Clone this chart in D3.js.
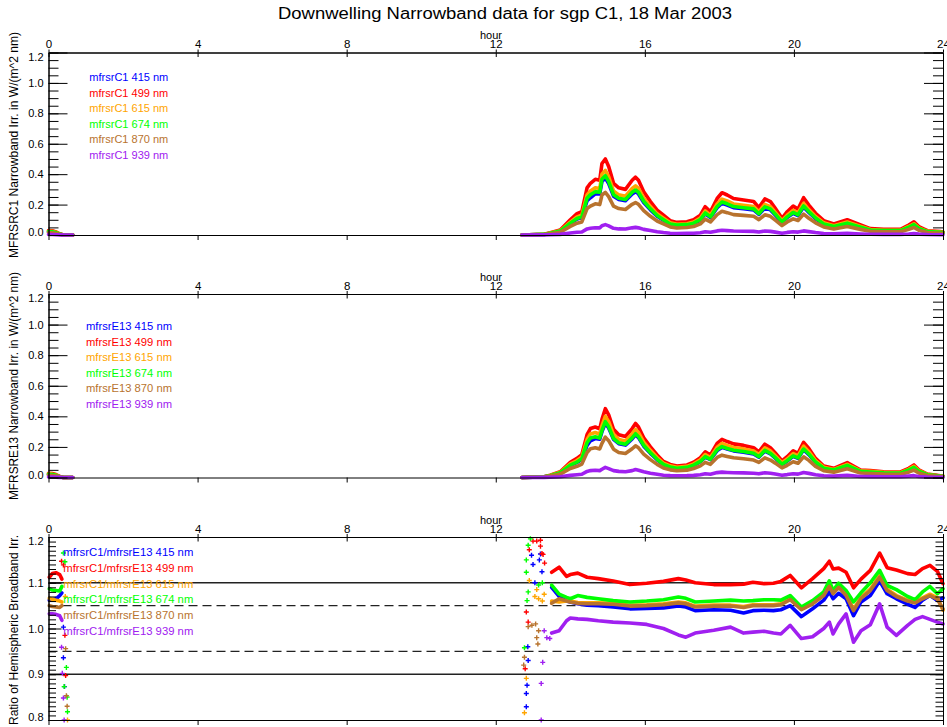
<!DOCTYPE html>
<html><head><meta charset="utf-8">
<script src="https://cdn.jsdelivr.net/npm/d3@7"></script>
<style>body{margin:0;background:#fff;} svg{display:block;background:#fff;}</style>
</head><body><svg id="c" width="947" height="727"></svg>
<script>
// ---------------- DATA ----------------
const titleText = "Downwelling Narrowband data for sgp C1, 18 Mar 2003";
const hourTicks = [0,4,8,12,16,20,24];
const hourTickLabels = ["0","4","8","12","16","20","24"];
const irrTicks = [0,0.2,0.4,0.6,0.8,1.0,1.2];
const irrTickLabels = ["0.0","0.2","0.4","0.6","0.8","1.0","1.2"];
const ratioTicks = [0.8,0.9,1.0,1.1,1.2];
const ratioTickLabels = ["0.8","0.9","1.0","1.1","1.2"];
const ratioRefSolid = [1.1,0.9];
const ratioRefDashed = [1.05,0.95];
const channels = ["415","499","615","674","870","939"];
const channelColors = ["#0000ff","#ff0000","#ffa500","#00ff00","#b8732e","#a020f0"];

const irrHours = [12.7,13.3,13.46,13.73,14.0,14.18,14.31,14.45,14.54,14.67,14.79,14.85,14.94,15.03,15.16,15.3,15.48,15.66,15.75,15.83,15.97,16.15,16.33,16.5,16.68,16.86,17.13,17.31,17.49,17.62,17.76,17.94,18.07,18.21,18.38,18.65,18.92,19.06,19.22,19.37,19.5,19.68,19.82,19.98,20.11,20.26,20.4,20.58,20.8,21.07,21.43,21.79,22.05,22.41,22.86,23.08,23.22,23.35,23.58,23.93,24.0];

const c1_415 = [0,0.004,0.011,0.025,0.075,0.105,0.115,0.225,0.245,0.27, 0.27,0.352,0.375,0.338,0.255,0.233,0.225,0.27,0.285,0.27, 0.214,0.165,0.123,0.098,0.071,0.062,0.065,0.075,0.098,0.14, 0.115,0.18,0.209,0.197,0.18,0.173,0.165,0.135,0.178,0.165, 0.131,0.083,0.115,0.143,0.128,0.184,0.148,0.107,0.071,0.054, 0.075,0.05,0.032,0.028,0.028,0.05,0.065,0.041,0.021,0.017,0.015];
const c1_499 = [0,0.005,0.015,0.033,0.10,0.14,0.153,0.31,0.34,0.366, 0.36,0.47,0.50,0.45,0.34,0.31,0.30,0.36,0.38,0.36, 0.285,0.22,0.164,0.13,0.094,0.083,0.087,0.10,0.13,0.186, 0.153,0.24,0.278,0.263,0.24,0.23,0.22,0.18,0.237,0.22, 0.175,0.11,0.153,0.19,0.17,0.245,0.197,0.143,0.094,0.072, 0.10,0.066,0.042,0.037,0.037,0.066,0.087,0.055,0.028,0.022,0.02];
const c1_615 = [0,0.004,0.013,0.028,0.085,0.119,0.130,0.264,0.289,0.311, 0.306,0.40,0.425,0.383,0.289,0.264,0.255,0.306,0.323,0.306, 0.242,0.187,0.139,0.111,0.08,0.071,0.074,0.085,0.111,0.158, 0.13,0.204,0.236,0.224,0.204,0.196,0.187,0.153,0.201,0.187, 0.149,0.094,0.13,0.162,0.145,0.208,0.167,0.122,0.08,0.061, 0.085,0.056,0.036,0.031,0.031,0.056,0.074,0.047,0.024,0.019,0.017];
const c1_674 = [0,0.004,0.012,0.026,0.078,0.109,0.119,0.242,0.265,0.285, 0.281,0.367,0.39,0.351,0.265,0.242,0.234,0.281,0.296,0.281, 0.222,0.172,0.128,0.101,0.073,0.065,0.068,0.078,0.101,0.145, 0.119,0.187,0.217,0.205,0.187,0.179,0.172,0.14,0.185,0.172, 0.137,0.086,0.119,0.148,0.133,0.191,0.154,0.112,0.073,0.056, 0.078,0.051,0.033,0.029,0.029,0.051,0.068,0.043,0.022,0.017,0.016];
const c1_870 = [0,0.003,0.008,0.018,0.056,0.078,0.086,0.174,0.19,0.205, 0.2,0.263,0.28,0.252,0.19,0.174,0.168,0.202,0.213,0.202, 0.16,0.123,0.092,0.073,0.053,0.046,0.049,0.056,0.073,0.104, 0.086,0.134,0.156,0.147,0.134,0.129,0.123,0.101,0.133,0.123, 0.098,0.062,0.086,0.106,0.095,0.137,0.11,0.08,0.053,0.04, 0.056,0.037,0.024,0.021,0.021,0.037,0.049,0.031,0.016,0.012,0.011];
const c1_939 = [0,0.001,0.002,0.004,0.013,0.018,0.02,0.04,0.044,0.048, 0.047,0.061,0.068,0.06,0.044,0.04,0.039,0.047,0.05,0.047, 0.037,0.029,0.021,0.016,0.012,0.01,0.011,0.012,0.015,0.021, 0.018,0.027,0.031,0.029,0.026,0.025,0.024,0.02,0.026,0.024, 0.019,0.012,0.017,0.021,0.019,0.027,0.022,0.016,0.01,0.008, 0.011,0.007,0.005,0.004,0.004,0.007,0.01,0.006,0.003,0.002,0.002];

const e13_415 = [0,0.004,0.012,0.03,0.079,0.099,0.118,0.21,0.24,0.255, 0.25,0.3,0.355,0.324,0.249,0.221,0.212,0.253,0.279,0.261, 0.205,0.158,0.116,0.083,0.067,0.059,0.065,0.079,0.103,0.133, 0.116,0.176,0.197,0.186,0.174,0.166,0.154,0.133,0.172,0.154, 0.126,0.085,0.107,0.138,0.125,0.182,0.15,0.099,0.059,0.047, 0.077,0.039,0.036,0.03,0.028,0.047,0.065,0.04,0.017,0.009,0.008];
const e13_499 = [0,0.005,0.015,0.038,0.10,0.125,0.15,0.28,0.32,0.33, 0.318,0.38,0.45,0.41,0.315,0.28,0.268,0.32,0.353,0.33, 0.26,0.2,0.147,0.105,0.085,0.075,0.082,0.10,0.13,0.168, 0.147,0.223,0.249,0.235,0.22,0.21,0.195,0.168,0.218,0.195, 0.16,0.108,0.136,0.175,0.158,0.23,0.19,0.125,0.075,0.06, 0.097,0.049,0.045,0.038,0.036,0.06,0.082,0.05,0.022,0.011,0.01];
const e13_615 = [0,0.004,0.013,0.034,0.089,0.111,0.134,0.249,0.285,0.294, 0.283,0.338,0.40,0.365,0.28,0.249,0.239,0.285,0.314,0.294, 0.231,0.178,0.131,0.093,0.076,0.067,0.073,0.089,0.116,0.15, 0.131,0.198,0.222,0.209,0.196,0.187,0.174,0.15,0.194,0.174, 0.142,0.096,0.121,0.156,0.141,0.205,0.169,0.111,0.067,0.053, 0.086,0.044,0.04,0.034,0.032,0.053,0.073,0.045,0.02,0.01,0.009];
const e13_674 = [0,0.004,0.012,0.031,0.081,0.101,0.122,0.227,0.259,0.267, 0.258,0.308,0.365,0.332,0.255,0.227,0.217,0.259,0.286,0.267, 0.211,0.162,0.119,0.085,0.069,0.061,0.066,0.081,0.105,0.136, 0.119,0.181,0.202,0.19,0.178,0.17,0.158,0.136,0.177,0.158, 0.13,0.087,0.11,0.142,0.128,0.186,0.154,0.101,0.061,0.049, 0.079,0.04,0.036,0.031,0.029,0.049,0.066,0.041,0.018,0.009,0.008];
const e13_870 = [0,0.003,0.009,0.022,0.059,0.073,0.088,0.164,0.188,0.194, 0.187,0.223,0.264,0.241,0.185,0.164,0.157,0.188,0.207,0.194, 0.153,0.117,0.086,0.062,0.05,0.044,0.048,0.059,0.076,0.099, 0.086,0.131,0.146,0.138,0.129,0.123,0.114,0.099,0.128,0.114, 0.094,0.063,0.08,0.103,0.093,0.135,0.112,0.073,0.044,0.035, 0.057,0.029,0.026,0.022,0.021,0.035,0.048,0.029,0.013,0.006,0.006];
const e13_939 = [0,0.001,0.002,0.005,0.014,0.018,0.021,0.04,0.045,0.047, 0.045,0.054,0.066,0.058,0.045,0.04,0.038,0.045,0.052,0.047, 0.037,0.028,0.021,0.015,0.012,0.011,0.012,0.014,0.018,0.024, 0.021,0.032,0.035,0.033,0.031,0.03,0.028,0.024,0.031,0.028, 0.023,0.015,0.019,0.025,0.022,0.033,0.027,0.018,0.011,0.009, 0.014,0.007,0.006,0.005,0.005,0.009,0.012,0.007,0.003,0.002,0.001];

const irrEarlyHours = [0,0.1,0.2,0.3,0.4,0.65];
const c1Early_415 = [0.02,0.019,0.014,0.006,0,0];
const c1Early_499 = [0.03,0.028,0.02,0.008,0,0];
const c1Early_615 = [0.025,0.024,0.017,0.007,0,0];
const c1Early_674 = [0.022,0.021,0.015,0.006,0,0];
const c1Early_870 = [0.015,0.014,0.01,0.004,0,0];
const c1Early_939 = [0.003,0.003,0.002,0.001,0,0];
const e13Early_415 = [0.019,0.018,0.013,0.005,0,0];
const e13Early_499 = [0.028,0.026,0.019,0.007,0,0];
const e13Early_615 = [0.024,0.022,0.016,0.006,0,0];
const e13Early_674 = [0.021,0.02,0.014,0.005,0,0];
const e13Early_870 = [0.014,0.013,0.009,0.004,0,0];
const e13Early_939 = [0.003,0.003,0.002,0.001,0,0];

const ratioHours = [13.5,13.7,13.9,14.0,14.2,14.45,14.75,15.15,15.6,16.05,16.5,16.9,17.1,17.35,17.85,18.3,18.65,18.9,19.2,19.45,19.65,19.9,20.2,20.5,20.8,20.95,21.05,21.2,21.4,21.6,21.8,22.05,22.3,22.5,22.75,23.05,23.25,23.45,23.65,23.85,24.0];
const ratio_415 = [1.09,1.07,1.06,1.058,1.054,1.051,1.05,1.047,1.043,1.044, 1.045,1.049,1.047,1.039,1.041,1.04,1.034,1.039,1.04,1.039, 1.041,1.05,1.026,1.043,1.062,1.08,1.065,1.077,1.065,1.028, 1.058,1.072,1.104,1.076,1.065,1.053,1.046,1.062,1.072,1.061,1.067];
const ratio_499 = [1.123,1.134,1.114,1.118,1.121,1.112,1.109,1.104,1.096,1.099, 1.103,1.109,1.106,1.100,1.096,1.096,1.097,1.101,1.098,1.099, 1.103,1.116,1.089,1.109,1.131,1.147,1.13,1.132,1.123,1.089, 1.108,1.127,1.165,1.133,1.128,1.12,1.118,1.131,1.138,1.125,1.098];
const ratio_615 = [1.06,1.058,1.06,1.06,1.057,1.056,1.056,1.055,1.051,1.052, 1.054,1.058,1.056,1.049,1.051,1.051,1.048,1.052,1.052,1.052, 1.054,1.066,1.043,1.056,1.075,1.096,1.079,1.093,1.075,1.042, 1.068,1.086,1.116,1.086,1.072,1.062,1.058,1.067,1.075,1.067,1.04];
const ratio_674 = [1.095,1.075,1.068,1.065,1.072,1.068,1.065,1.061,1.058,1.06, 1.063,1.069,1.066,1.058,1.06,1.062,1.06,1.061,1.063,1.063, 1.062,1.072,1.047,1.061,1.08,1.104,1.083,1.099,1.083,1.058, 1.078,1.1,1.127,1.094,1.085,1.07,1.063,1.08,1.092,1.076,1.087];
const ratio_870 = [1.055,1.065,1.06,1.058,1.055,1.054,1.054,1.053,1.049,1.05, 1.052,1.056,1.054,1.047,1.049,1.049,1.046,1.05,1.05,1.05, 1.052,1.063,1.041,1.054,1.072,1.092,1.076,1.09,1.072,1.039, 1.066,1.083,1.112,1.083,1.07,1.06,1.056,1.065,1.072,1.064,1.043];
const ratio_939 = [0.99,0.995,1.017,1.023,1.021,1.02,1.017,1.014,1.012,1.009, 1.0,0.986,0.981,0.99,0.996,1.003,0.99,0.992,0.994,0.99, 0.988,1.007,0.978,0.982,1.0,1.014,0.988,1.01,1.032,0.97, 0.995,1.008,1.054,1.003,0.985,1.007,1.02,1.026,1.02,1.014,1.01];

const ratioEarlyHours = [0.02,0.1,0.2,0.3,0.36];
const ratioEarly_415 = [1.062,1.063,1.065,1.072,1.078];
const ratioEarly_499 = [1.112,1.12,1.122,1.118,1.108];
const ratioEarly_615 = [1.066,1.064,1.062,1.06,1.058];
const ratioEarly_674 = [1.087,1.084,1.083,1.082,1.092];
const ratioEarly_870 = [1.05,1.048,1.047,1.046,1.05];
const ratioEarly_939 = [1.032,1.032,1.031,1.028,1.018];

const ratioScatter_415 = [[0.4,1.003],[0.4,0.936],[0.43,0.873],[12.96,1.16],[13.0,1.14],[13.17,1.15],[13.24,1.124],[13.2,1.163],[12.87,0.93],[12.86,0.96],[12.84,0.876],[12.82,0.858],[12.82,0.829],[13.05,1.1]];
const ratioScatter_499 = [[0.35,1.147],[0.4,1.139],[0.44,0.985],[0.46,0.897],[13.0,1.191],[13.1,1.191],[13.2,1.193],[12.9,1.172],[13.2,1.18],[13.24,1.164],[13.27,1.162],[13.31,1.143],[12.82,1.036],[12.87,1.014],[12.79,0.912]];
const ratioScatter_615 = [[0.51,0.8],[0.45,1.07],[12.9,1.105],[12.82,0.891],[12.77,0.816],[13.05,1.07],[13.15,1.065],[13.25,1.06],[13.3,1.075],[13.1,1.085]];
const ratioScatter_674 = [[0.4,1.165],[0.44,1.146],[0.48,0.915],[0.42,0.873],[0.5,0.85],[0.51,0.818],[12.93,1.196],[12.87,1.182],[12.82,1.15],[12.82,1.123],[12.87,1.08],[12.84,1.061],[12.77,0.958],[13.15,1.095],[13.25,1.1]];
const ratioScatter_870 = [[0.46,0.956],[0.48,0.853],[0.5,0.83],[12.77,0.937],[12.87,1.004],[12.97,1.007],[13.07,1.01],[13.1,0.98],[13.13,0.966],[13.15,0.995],[12.75,0.92]];
const ratioScatter_939 = [[0.35,0.959],[0.37,0.902],[0.4,0.848],[0.42,0.8],[13.26,0.926],[13.22,0.88],[13.22,0.8],[13.3,0.995],[13.37,0.98],[13.45,0.978]];

// ---------------- DRAWING ----------------
const FONT = "'Liberation Sans', Arial, sans-serif";
const svg = d3.select("#c");
const x = d3.scaleLinear().domain([0,24]).range([48.5,943]);

function styleAxis(g, fs){
  g.attr("font-family", null).attr("font-size", null);
  g.selectAll("text").attr("font-family", FONT).attr("font-size", fs).attr("fill", "#000");
  g.selectAll("line").attr("stroke", "#000");
  g.select(".domain").attr("stroke", "#000");
}

function drawPanel(p){
  const y = d3.scaleLinear().domain(p.yDomain).range([p.bottom, p.top]);
  const g = svg.append("g");

  (p.refSolid||[]).forEach(v => g.append("line").attr("x1", x(0)).attr("x2", x(24)).attr("y1", y(v)).attr("y2", y(v)).attr("stroke", "#222").attr("stroke-width", 1.3));
  (p.refDashed||[]).forEach(v => g.append("line").attr("x1", x(0)).attr("x2", x(24)).attr("y1", y(v)).attr("y2", y(v)).attr("stroke", "#222").attr("stroke-width", 1.3).attr("stroke-dasharray", "9,5"));

  const line = d3.line().x(d => x(d[0])).y(d => y(d[1]));
  p.series.forEach((s, i) => {
    const col = channelColors[i];
    s.segments.forEach(seg => {
      const pts = seg.h.map((h, k) => [h, seg.v[k]]);
      g.append("path").attr("d", line(pts)).attr("fill", "none").attr("stroke", col)
        .attr("stroke-width", 3.6).attr("stroke-linejoin", "round").attr("stroke-linecap", "round");
    });
    (s.scatter||[]).forEach(d => {
      g.append("path").attr("transform", `translate(${x(d[0])},${y(d[1])})`)
        .attr("d", "M-2.5,0H2.5M0,-2.5V2.5").attr("stroke", col).attr("stroke-width", 1.4).attr("fill", "none");
    });
  });

  const la = g.append("g").attr("transform", `translate(${x(0)},0)`)
    .call(d3.axisLeft(y).tickValues(p.major).tickFormat((d,i) => p.majorLabels[i]).tickSize(-p.majLen).tickSizeOuter(0).tickPadding(5));
  styleAxis(la, "11px");
  la.selectAll(".tick text").attr("transform", (d,i) => i === 0 ? "translate(0,-3)" : (i === p.major.length-1 ? "translate(0,4)" : null));
  const lm = g.append("g").attr("transform", `translate(${x(0)},0)`)
    .call(d3.axisLeft(y).tickValues(p.minor).tickFormat("").tickSize(-p.minLen).tickSizeOuter(0));
  styleAxis(lm, "11px");

  const ra = g.append("g").attr("transform", `translate(${x(24)},0)`)
    .call(d3.axisRight(y).tickValues(p.major).tickFormat("").tickSize(-p.majLen).tickSizeOuter(0));
  styleAxis(ra, "11px");
  const rm = g.append("g").attr("transform", `translate(${x(24)},0)`)
    .call(d3.axisRight(y).tickValues(p.minor).tickFormat("").tickSize(-p.minLen).tickSizeOuter(0));
  styleAxis(rm, "11px");

  const ta = g.append("g").attr("transform", `translate(0,${p.top})`)
    .call(d3.axisTop(x).tickValues(hourTicks).tickFormat((d,i) => hourTickLabels[i]).tickSizeInner(-4.5).tickSizeOuter(0).tickPadding(4.5));
  styleAxis(ta, "11.5px");
  const tu = g.append("g").attr("transform", `translate(0,${p.top})`)
    .call(d3.axisTop(x).tickValues(hourTicks).tickFormat("").tickSize(3).tickSizeOuter(0));
  styleAxis(tu, "11px");
  g.append("text").attr("x", 491).attr("y", p.top - 13.5).attr("text-anchor", "middle")
    .attr("font-family", FONT).attr("font-size", "11px").attr("fill", "#000").text("hour");

  const ba = g.append("g").attr("transform", `translate(0,${p.bottom})`)
    .call(d3.axisBottom(x).tickValues(hourTicks).tickFormat("").tickSize(5).tickSizeOuter(0));
  styleAxis(ba, "11px");

  g.append("text").attr("transform", `translate(18,${p.labelCy}) rotate(-90)`).attr("text-anchor", "middle")
    .attr("font-family", FONT).attr("font-size", "12px").attr("fill", "#000")
    .attr("textLength", p.labelLen).attr("lengthAdjust", "spacingAndGlyphs").text(p.ylabel);

  p.legend.forEach((t, i) => {
    g.append("text").attr("x", p.legX).attr("y", p.legY + i * p.legDy + 3.5)
      .attr("font-family", FONT).attr("font-size", "10.5px").attr("fill", channelColors[i])
      .attr("textLength", p.legLen).attr("lengthAdjust", "spacingAndGlyphs").text(t);
  });
}

const irrMinor = d3.range(0, 1.2001, 0.05);
const ratioMinor = d3.range(0.8, 1.2001, 0.01);

const c1Main = [c1_415, c1_499, c1_615, c1_674, c1_870, c1_939];
const c1Early = [c1Early_415, c1Early_499, c1Early_615, c1Early_674, c1Early_870, c1Early_939];
const e13Main = [e13_415, e13_499, e13_615, e13_674, e13_870, e13_939];
const e13Early = [e13Early_415, e13Early_499, e13Early_615, e13Early_674, e13Early_870, e13Early_939];
const ratioMain = [ratio_415, ratio_499, ratio_615, ratio_674, ratio_870, ratio_939];
const ratioEarly = [ratioEarly_415, ratioEarly_499, ratioEarly_615, ratioEarly_674, ratioEarly_870, ratioEarly_939];
const ratioScatter = [ratioScatter_415, ratioScatter_499, ratioScatter_615, ratioScatter_674, ratioScatter_870, ratioScatter_939];

drawPanel({
  top: 52.5, bottom: 235, yDomain: [0, 1.2], major: irrTicks, majorLabels: irrTickLabels, minor: irrMinor,
  majLen: 19, minLen: 10,
  series: channels.map((c, i) => ({segments: [{h: irrEarlyHours, v: c1Early[i]}, {h: irrHours, v: c1Main[i]}]})),
  ylabel: "MFRSRC1 Narrowband Irr. in W/(m^2 nm)", labelCy: 145, labelLen: 226,
  legend: channels.map(c => `mfrsrC1 ${c} nm`), legX: 89.3, legY: 77.7, legDy: 15.5, legLen: 79
});
drawPanel({
  top: 294, bottom: 477.5, yDomain: [0, 1.2], major: irrTicks, majorLabels: irrTickLabels, minor: irrMinor,
  majLen: 19, minLen: 10,
  series: channels.map((c, i) => ({segments: [{h: irrEarlyHours, v: e13Early[i]}, {h: irrHours, v: e13Main[i]}]})),
  ylabel: "MFRSRE13 Narrowband Irr. in W/(m^2 nm)", labelCy: 386, labelLen: 228,
  legend: channels.map(c => `mfrsrE13 ${c} nm`), legX: 86, legY: 326.7, legDy: 15.5, legLen: 86
});
drawPanel({
  top: 537, bottom: 720, yDomain: [0.8, 1.2], major: ratioTicks, majorLabels: ratioTickLabels, minor: ratioMinor,
  majLen: 13, minLen: 7.5, refSolid: ratioRefSolid, refDashed: ratioRefDashed,
  series: channels.map((c, i) => ({segments: [{h: ratioEarlyHours, v: ratioEarly[i]}, {h: ratioHours, v: ratioMain[i]}], scatter: ratioScatter[i]})),
  ylabel: "Ratio of Hemispheric Broadband Irr.", labelCy: 630, labelLen: 190,
  legend: channels.map(c => `mfrsrC1/mfrsrE13 ${c} nm`), legX: 63.3, legY: 552.7, legDy: 15.7, legLen: 130
});

svg.append("text").attr("x", 505).attr("y", 18.5).attr("text-anchor", "middle")
  .attr("font-family", FONT).attr("font-size", "16px").attr("fill", "#000")
  .attr("textLength", 454).attr("lengthAdjust", "spacingAndGlyphs").text(titleText);
</script>
</body></html>
